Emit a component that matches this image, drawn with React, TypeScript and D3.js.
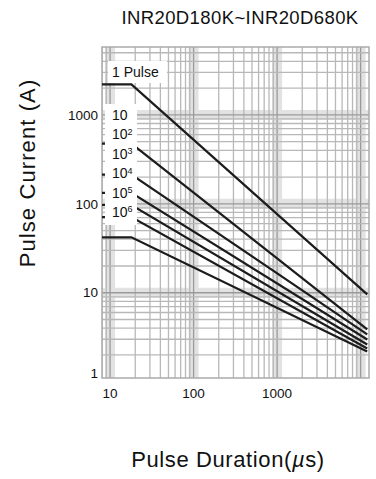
import * as d3 from "d3";
import { useEffect, useRef } from "react";

// pulse duration (µs) at the flat start, the knee, and the right end
const durations = [8, 18, 12000];

// pulse current (A) per repetition count
const pulse1 = [2200, 2200, 9.6];
const pulse10 = [476, 476, 3.87];
const pulse1e2 = [213, 213, 3.4];
const pulse1e3 = [133, 133, 2.98];
const pulse1e4 = [97, 97, 2.62];
const pulse1e5 = [71, 71, 2.36];
const pulse1e6 = [42, 42, 2.18];

const seriesList = [pulse1, pulse10, pulse1e2, pulse1e3, pulse1e4, pulse1e5, pulse1e6];

const labelBases = ["10", "10", "10", "10", "10", "10"];
const labelExps = ["", "2", "3", "4", "5", "6"];

const xTickValues = [10, 100, 1000];
const yTickValues = [1, 10, 100, 1000];

const FONT = "'Liberation Sans', Arial, Helvetica, sans-serif";

const PulseChart = () => {
  const ref = useRef<SVGSVGElement | null>(null);

  useEffect(() => {
    const width = 376;
    const height = 479;
    const left = 102;
    const right = 369;
    const top = 47;
    const bottom = 378;

    const svg = d3.select(ref.current);
    svg.selectAll("*").remove();
    svg.attr("width", width).attr("height", height);

    const x = d3.scaleLog().domain([8, 12600]).range([left, right]);
    const y = d3.scaleLog().domain([1.1, 5800]).range([bottom, top]);

    svg
      .append("defs")
      .append("clipPath")
      .attr("id", "plot-clip")
      .append("rect")
      .attr("x", left)
      .attr("y", top)
      .attr("width", right - left)
      .attr("height", bottom - top);

    const grid = svg.append("g").attr("clip-path", "url(#plot-clip)");

    const isDecade = (v: number) => Math.abs(Math.log10(v) - Math.round(Math.log10(v))) < 1e-6;

    // light bands around decades
    grid
      .selectAll("line.vband")
      .data(x.ticks().filter(isDecade))
      .enter()
      .append("line")
      .attr("x1", (d) => x(d))
      .attr("x2", (d) => x(d))
      .attr("y1", top)
      .attr("y2", bottom)
      .attr("stroke", "#e2e2e2")
      .attr("stroke-width", 10);
    grid
      .selectAll("line.hband")
      .data(y.ticks().filter(isDecade))
      .enter()
      .append("line")
      .attr("y1", (d) => y(d))
      .attr("y2", (d) => y(d))
      .attr("x1", left)
      .attr("x2", right)
      .attr("stroke", "#e2e2e2")
      .attr("stroke-width", 10);

    grid
      .selectAll("line.vgrid")
      .data(x.ticks())
      .enter()
      .append("line")
      .attr("x1", (d) => x(d))
      .attr("x2", (d) => x(d))
      .attr("y1", top)
      .attr("y2", bottom)
      .attr("stroke", (d) => (isDecade(d) ? "#9a9a9a" : "#b8b8b8"))
      .attr("stroke-width", 1.3);
    grid
      .selectAll("line.hgrid")
      .data(y.ticks())
      .enter()
      .append("line")
      .attr("y1", (d) => y(d))
      .attr("y2", (d) => y(d))
      .attr("x1", left)
      .attr("x2", right)
      .attr("stroke", (d) => (isDecade(d) ? "#9a9a9a" : "#b8b8b8"))
      .attr("stroke-width", 1.3);

    svg
      .append("rect")
      .attr("x", left)
      .attr("y", top)
      .attr("width", right - left)
      .attr("height", bottom - top)
      .attr("fill", "none")
      .attr("stroke", "#aaa")
      .attr("stroke-width", 1.5);

    const line = d3
      .line<number>()
      .x((_, i) => x(durations[i]))
      .y((d) => y(d));

    svg
      .append("g")
      .attr("clip-path", "url(#plot-clip)")
      .selectAll("path")
      .data(seriesList)
      .enter()
      .append("path")
      .attr("d", (d) => line(d))
      .attr("fill", "none")
      .attr("stroke", "#1c1c1c")
      .attr("stroke-width", 2.2);

    // label boxes
    svg
      .append("rect")
      .attr("x", 108)
      .attr("y", 61)
      .attr("width", 59)
      .attr("height", 22)
      .attr("fill", "#fff");
    svg
      .append("text")
      .attr("x", 112)
      .attr("y", 72)
      .attr("dy", "0.35em")
      .attr("font-family", FONT)
      .attr("font-size", 14)
      .attr("fill", "#111")
      .text("1 Pulse");

    svg
      .append("rect")
      .attr("x", 105)
      .attr("y", 104)
      .attr("width", 32)
      .attr("height", 121)
      .attr("fill", "#fff");

    const labels = svg
      .append("g")
      .selectAll("text")
      .data(labelBases)
      .enter()
      .append("text")
      .attr("x", 112)
      .attr("y", (_, i) => 115 + i * 19.4)
      .attr("dy", "0.35em")
      .attr("font-family", FONT)
      .attr("font-size", 14)
      .attr("fill", "#111");
    labels.append("tspan").text((d) => d);
    labels
      .append("tspan")
      .attr("font-size", 9)
      .attr("dy", "-0.5em")
      .text((_, i) => labelExps[i]);

    // tick labels
    svg
      .append("g")
      .selectAll("text")
      .data(yTickValues)
      .enter()
      .append("text")
      .attr("x", 98)
      .attr("y", (d) => Math.min(y(d), bottom - 5))
      .attr("dy", "0.35em")
      .attr("text-anchor", "end")
      .attr("font-family", FONT)
      .attr("font-size", 13.5)
      .attr("fill", "#111")
      .text((d) => String(d));

    svg
      .append("g")
      .selectAll("text")
      .data(xTickValues)
      .enter()
      .append("text")
      .attr("x", (d) => x(d))
      .attr("y", 393)
      .attr("dy", "0.35em")
      .attr("text-anchor", "middle")
      .attr("font-family", FONT)
      .attr("font-size", 13.5)
      .attr("fill", "#111")
      .text((d) => String(d));

    // titles
    svg
      .append("text")
      .attr("x", 240)
      .attr("y", 18)
      .attr("dy", "0.35em")
      .attr("text-anchor", "middle")
      .attr("font-family", FONT)
      .attr("font-size", 18.5)
      .attr("letter-spacing", 0.4)
      .attr("fill", "#111")
      .text("INR20D180K~INR20D680K");

    svg
      .append("text")
      .attr("transform", "translate(27,173) rotate(-90)")
      .attr("dy", "0.35em")
      .attr("text-anchor", "middle")
      .attr("font-family", FONT)
      .attr("font-size", 22)
      .attr("letter-spacing", 1.1)
      .attr("fill", "#111")
      .text("Pulse Current (A)");

    const xTitle = svg
      .append("text")
      .attr("x", 228)
      .attr("y", 459)
      .attr("dy", "0.35em")
      .attr("text-anchor", "middle")
      .attr("font-family", FONT)
      .attr("font-size", 22)
      .attr("letter-spacing", 0.6)
      .attr("fill", "#111");
    xTitle.append("tspan").text("Pulse Duration(");
    xTitle.append("tspan").attr("font-style", "italic").text("µ");
    xTitle.append("tspan").text("s)");
  }, []);

  return <svg ref={ref} style={{ position: "absolute", left: 0, top: 0, background: "#fff" }} />;
};

export default function App() {
  return <PulseChart />;
}
